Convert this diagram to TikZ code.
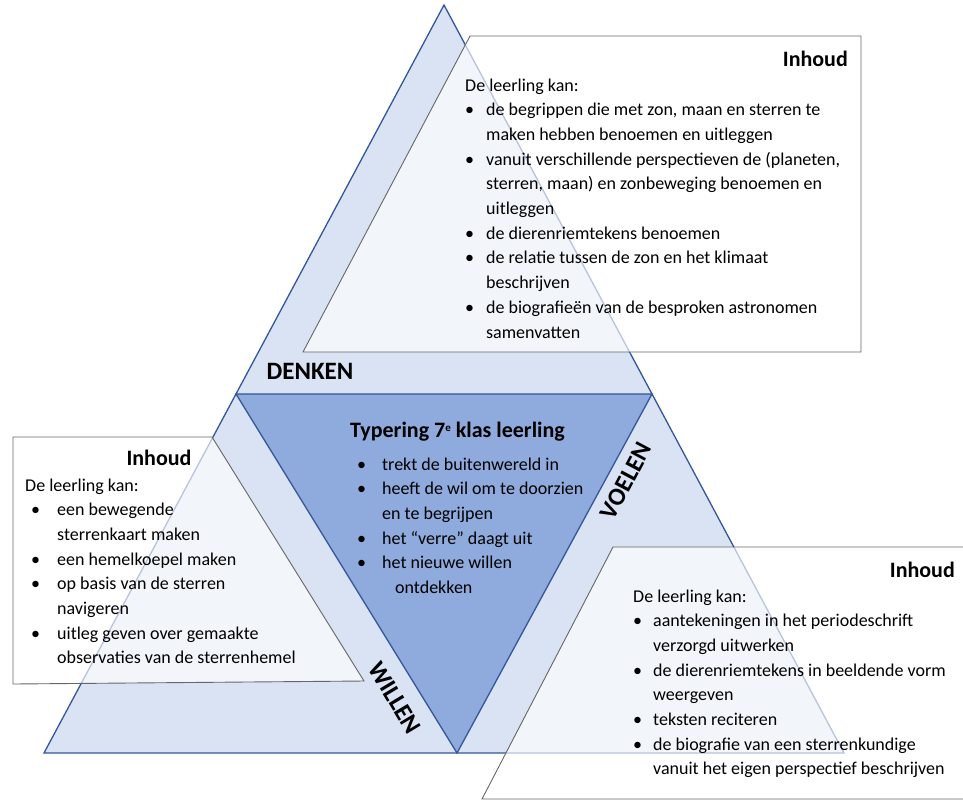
\documentclass[tikz,border=0pt]{standalone}
\usepackage{fontspec}
\setmainfont{Carlito}
\usepackage{tikz}
\usetikzlibrary{calc}
\newcommand{\bul}{\textbullet}
\newcommand{\supe}{\raisebox{6pt}{\fontsize{11}{11}\selectfont e}}

\begin{document}
\begin{tikzpicture}[x=1pt,y=-1pt]
    \definecolor{lightblue}{RGB}{218,227,243}
    \definecolor{midblue}{RGB}{143,170,220}
    \definecolor{edgeblue}{RGB}{52,87,155}
    \tikzset{
      bodytext/.style={anchor=base west, inner sep=0pt, font=\fontsize{18}{24.7}\selectfont},
      headtext/.style={inner sep=0pt, font=\bfseries\fontsize{22}{26}\selectfont},
      sidelabel/.style={inner sep=0pt, font=\bfseries\fontsize{25}{28}\selectfont},
      inhoudbox/.style={fill=white, fill opacity=0.65, draw=black!60, line width=0.9pt}
    }
    \useasboundingbox (0,0) rectangle (963,801);

    % outer triangle, inner triangle on its edges
    \coordinate (top) at (444,5);
    \coordinate (botL) at (44,753);
    \coordinate (botR) at (844,753);
    \coordinate (midL) at ($(top)!0.52!(botL)$);
    \coordinate (midR) at ($(top)!0.52!(botR)$);
    \coordinate (midB) at (457,753);
    \filldraw[fill=lightblue, draw=edgeblue, line width=1.3pt] (top) -- (botL) -- (botR) -- cycle;
    \filldraw[fill=midblue, draw=edgeblue, line width=1.3pt] (midL) -- (midR) -- (midB) -- cycle;

    % side labels
    \foreach \name/\pos/\ang/\txt in {denken/{(310,371)}/0/DENKEN, voelen/{(626,481)}/62/VOELEN, willen/{(395,698)}/-59/WILLEN}
      \node[sidelabel, rotate=\ang] (\name) at \pos {\txt};

    % three Inhoud boxes, see-through
    \filldraw[inhoudbox] (470,36) -- (861,36) -- (861,352) -- (303,352) -- cycle;
    \filldraw[inhoudbox] (13,437) -- (212,437) -- (364,681) -- (13,684) -- cycle;
    \filldraw[inhoudbox] (613,547) -- (985,547) -- (985,799) -- (482,799) -- cycle;

    % centre: Typering
    \node[headtext, anchor=base west] (typering) at (350,437) {Typering 7\supe\ klas leerling};
    \node[bodytext] (typeringlijst) at (357,470) {\begin{tabular}[t]{@{}p{25pt}@{}l@{}}
      \bul & trekt de buitenwereld in\\
      \bul & heeft de wil om te doorzien\\
           & en te begrijpen\\
      \bul & het “verre” daagt uit\\
      \bul & het nieuwe willen\\
           & \hspace{13pt}ontdekken
    \end{tabular}};

    % DENKEN box
    \node[headtext, anchor=base east] (inhoudD) at (848,66) {Inhoud};
    \node[bodytext] (lijstD) at (465,91) {\begin{tabular}[t]{@{}p{21pt}@{}l@{}}
      \multicolumn{2}{@{}l@{}}{De leerling kan:}\\
      \bul & de begrippen die met zon, maan en sterren te\\
           & maken hebben benoemen en uitleggen\\
      \bul & vanuit verschillende perspectieven de (planeten,\\
           & sterren, maan) en zonbeweging benoemen en\\
           & uitleggen\\
      \bul & de dierenriemtekens benoemen\\
      \bul & de relatie tussen de zon en het klimaat\\
           & beschrijven\\
      \bul & de biografieën van de besproken astronomen\\
           & samenvatten
    \end{tabular}};

    % WILLEN box
    \node[headtext, anchor=base] (inhoudW) at (159,465) {Inhoud};
    \node[bodytext] (lijstW) at (25,491) {\begin{tabular}[t]{@{\hspace{6pt}}p{26pt}@{}l@{}}
      \multicolumn{2}{@{}l@{}}{De leerling kan:}\\
      \bul & een bewegende\\
           & sterrenkaart maken\\
      \bul & een hemelkoepel maken\\
      \bul & op basis van de sterren\\
           & navigeren\\
      \bul & uitleg geven over gemaakte\\
           & observaties van de sterrenhemel
    \end{tabular}};

    % VOELEN box
    \node[headtext, anchor=base east] (inhoudV) at (955,577) {Inhoud};
    \node[bodytext] (lijstV) at (633,602) {\begin{tabular}[t]{@{}p{20pt}@{}l@{}}
      \multicolumn{2}{@{}l@{}}{De leerling kan:}\\
      \bul & aantekeningen in het periodeschrift\\
           & verzorgd uitwerken\\
      \bul & de dierenriemtekens in beeldende vorm\\
           & weergeven\\
      \bul & teksten reciteren\\
      \bul & de biografie van een sterrenkundige\\
           & vanuit het eigen perspectief beschrijven
    \end{tabular}};
\end{tikzpicture}
\end{document}
